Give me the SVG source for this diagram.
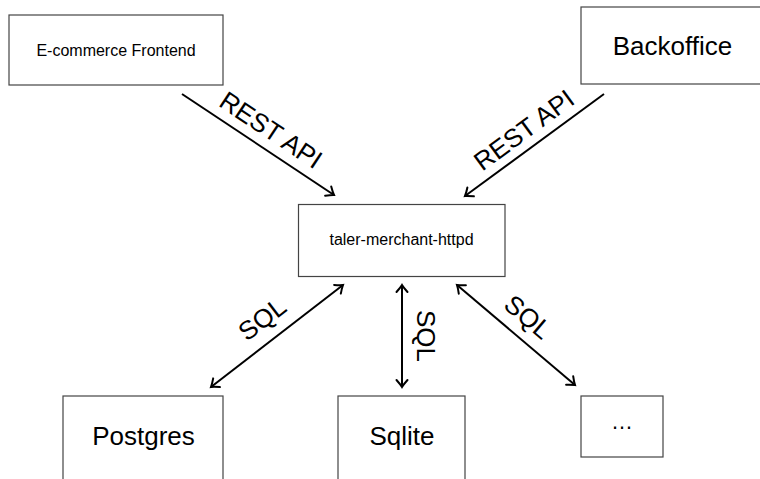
<svg xmlns="http://www.w3.org/2000/svg" width="760" height="479" viewBox="0 0 760 479">
<style>
.box{fill:#fff;stroke:#444;stroke-width:1.2}
.t{font-family:"Liberation Sans",Arial,sans-serif;fill:#000;text-anchor:middle}
.s{font-size:16px}
.l{font-size:26px}
.edge{fill:none;stroke:#000;stroke-width:2}
</style>
<defs>
<marker id="ah" markerUnits="userSpaceOnUse" viewBox="-10 -8 12 16" refX="0" refY="0" markerWidth="12" markerHeight="16" orient="auto-start-reverse" overflow="visible">
<path d="M -7,-5.5 Q -2.5,-1.5 0,0 Q -2.5,1.5 -7,5.5" fill="none" stroke="#000" stroke-width="2" stroke-linecap="round"/>
</marker>
</defs>
<rect width="760" height="479" fill="#fff"/>
<g id="connectors">
<line class="edge" x1="182" y1="94" x2="334" y2="195" marker-end="url(#ah)"/>
<line class="edge" x1="604" y1="94" x2="465" y2="196" marker-end="url(#ah)"/>
<line class="edge" x1="343" y1="285" x2="211" y2="387" marker-start="url(#ah)" marker-end="url(#ah)"/>
<line class="edge" x1="402" y1="285" x2="402" y2="387" marker-start="url(#ah)" marker-end="url(#ah)"/>
<line class="edge" x1="457" y1="285" x2="575" y2="385" marker-start="url(#ah)" marker-end="url(#ah)"/>
<text class="t l" transform="translate(271,130) rotate(33.6)" y="9">REST API</text>
<text class="t l" transform="translate(524,130) rotate(-36.3)" y="9">REST API</text>
<text class="t l" transform="translate(262,319) rotate(-37.7)" y="9">SQL</text>
<text class="t l" transform="translate(426,336) rotate(90)" y="9">SQL</text>
<text class="t l" transform="translate(528,317) rotate(40.3)" y="9">SQL</text>
</g>
<g id="frontend">
<rect class="box" x="9" y="15" width="214" height="70"/>
<text class="t s" x="116" y="56">E-commerce Frontend</text>
</g>
<g id="backoffice">
<rect class="box" x="581" y="7" width="183" height="77"/>
<text class="t l" x="672.5" y="55">Backoffice</text>
</g>
<g id="merchant">
<rect class="box" x="298.5" y="204.5" width="206.5" height="72"/>
<text class="t s" x="401.5" y="245">taler-merchant-httpd</text>
</g>
<g id="postgres">
<rect class="box" x="63" y="396" width="160" height="100"/>
<text class="t l" x="143.5" y="445">Postgres</text>
</g>
<g id="sqlite">
<rect class="box" x="338" y="396" width="127" height="100"/>
<text class="t l" x="402" y="445">Sqlite</text>
</g>
<g id="more">
<rect class="box" x="581" y="396" width="82" height="61"/>
<text class="t" x="622" y="429" font-size="22">…</text>
</g>
</svg>
